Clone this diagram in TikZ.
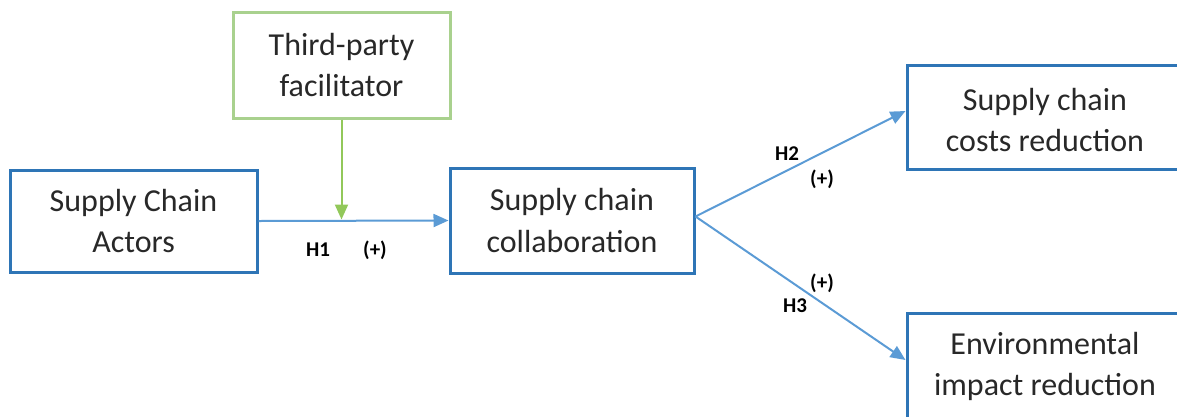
\documentclass[tikz,border=0pt]{standalone}
\usepackage{fontspec}
\setmainfont{Carlito}
\usetikzlibrary{positioning}
\usetikzlibrary{arrows.meta}
\definecolor{boxblue}{RGB}{46,117,182}
\definecolor{lineblue}{RGB}{91,155,213}
\definecolor{boxgreen}{RGB}{169,209,142}
\definecolor{tipgreen}{RGB}{146,200,90}
\definecolor{txt}{RGB}{40,40,40}

\begin{document}
\begin{tikzpicture}[x=1pt,y=-1pt,
		box/.style={draw=boxblue, line width=3pt, align=center, text=txt,
			font=\fontsize{32}{41}\selectfont, inner sep=0pt},
		hyp/.style={font=\fontsize{21}{22}\selectfont\bfseries, text=black, inner sep=0pt},
		link/.style={lineblue, line width=2pt, -{Triangle[length=15pt,width=13pt]}}]
	\useasboundingbox (0,0) rectangle (1177,416);

	% Boxes
	\node[box, minimum width=247pt, minimum height=102pt] (actors) at (133.5,221) {Supply Chain\\Actors};
	\node[box, draw=boxgreen, minimum width=217pt, minimum height=106pt] (facil) at (341.5,65) {Third-party\\facilitator};
	\node[box, minimum width=244pt, minimum height=105pt] (collab) at (572,220.5) {Supply chain\\collaboration};
	\node[box, minimum width=285pt, minimum height=104pt] (costs) at (1049.5,117) {};
	\node[box, draw=none] (coststxt) at (1045,120) {Supply chain\\costs reduction};
	\node[box, minimum width=285pt, minimum height=110pt] (env) at (1049.5,368) {};
	\node[box, draw=none] (envtxt) at (1045,366) {Environmental\\impact reduction};

	% H1 path with moderator
	\draw[link] (actors.east) -- (collab.west);
	\coordinate (meet) at (facil.south |- collab.west);
	\draw[tipgreen, line width=2pt, -{Triangle[length=15pt,width=13pt]}] (facil.south) -- ([yshift=1pt]meet);
	\node[hyp] (h1) at (318,250) {H1};
	\node[hyp] (p1) at (375,250) {(+)};

	% H2 and H3
	\coordinate (fork) at ([yshift=4pt]collab.east);
	\draw[link] (fork) -- ([yshift=6pt]costs.west);
	\draw[link] (fork) -- ([yshift=8pt]env.west);
	\node[hyp] (h2) at (787,154) {H2};
	\node[hyp] (p2) at (822,179) {(+)};
	\node[hyp] (p3) at (822,283) {(+)};
	\node[hyp] (h3) at (795,306) {H3};
\end{tikzpicture}
\end{document}
